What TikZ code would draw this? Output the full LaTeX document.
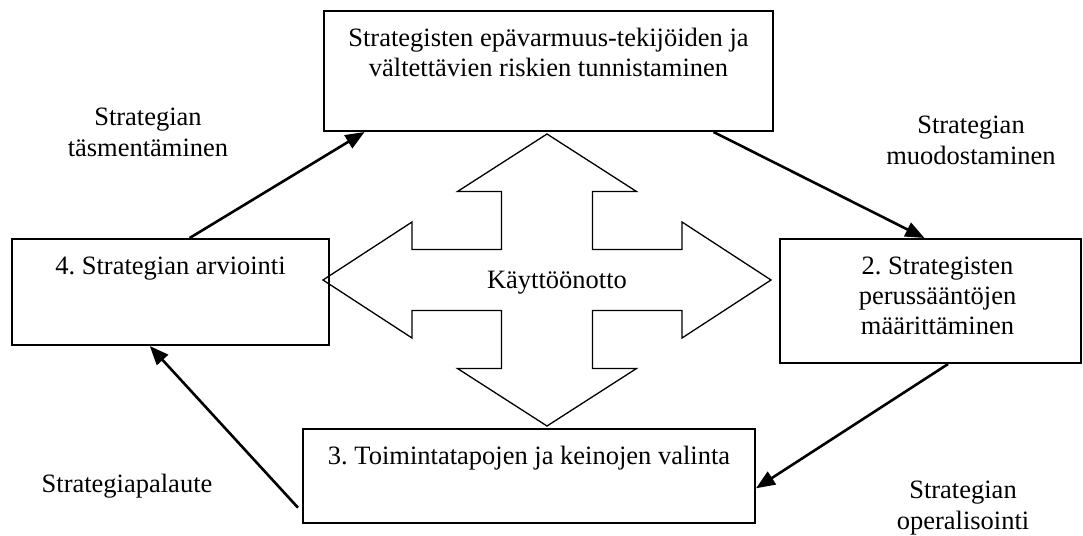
\documentclass[tikz,border=0pt]{standalone}
\usepackage{fontspec}
\setmainfont{Liberation Serif}
\usetikzlibrary{arrows.meta,calc}

% centred lines set at a fixed baseline distance; the node's baseline is that of the first line
\newcommand\stacklines[2][31pt]{\vtop{\baselineskip=#1\halign{\hfil##\hfil\cr#2\crcr}}}

\begin{document}
\begin{tikzpicture}[x=1pt,y=-1pt,
  every node/.style={font=\fontsize{26.5}{31}\selectfont\frenchspacing, inner sep=0pt, text=black},
  stage/.style={draw, rectangle, line width=2pt},
  caption/.style={anchor=base},
  flow/.style={line width=2.6pt, -{Triangle[length=19pt,width=15pt]}},
  hubline/.style={line width=1.3pt, line join=miter}
]
\useasboundingbox (0,0) rectangle (1083,535);

% the four stages
\node[stage, minimum width=449pt, minimum height=120pt] (top) at (548.5,71) {};
\node[stage, minimum width=317pt, minimum height=106pt] (b4) at (170.5,292) {};
\node[stage, minimum width=301pt, minimum height=124pt] (b2) at (930.5,301) {};
\node[stage, minimum width=452pt, minimum height=94pt] (b3) at (529,476) {};

\node[caption] (toptext) at ($(top.north)+(0,36)$)
  {\stacklines{Strategisten epävarmuus-tekijöiden ja\cr vältettävien riskien tunnistaminen}};
\node[caption] (b4text) at ($(b4.north)+(0,36)$) {4. Strategian arviointi};
\node[caption] (b2text) at ($(b2.north)+(7,36)$)
  {\stacklines[30pt]{2. Strategisten\cr perussääntöjen\cr määrittäminen}};
\node[caption] (b3text) at ($(b3.north)+(0,36)$) {3. Toimintatapojen ja keinojen valinta};

% four-way arrow in the middle
\coordinate (hub) at (547,280);
\begin{scope}[shift={(hub)}]
  \draw[hubline] (0,-146) -- (89.5,-88.5) -- (45.5,-88.5) -- (45.5,-30.5) -- (135,-30.5)
    -- (135,-58) -- (224,0) -- (135,58) -- (135,30.5) -- (45.5,30.5) -- (45.5,88.5)
    -- (89.5,88.5) -- (0,146) -- (-89.5,88.5) -- (-45.5,88.5) -- (-45.5,30.5)
    -- (-135,30.5) -- (-135,58) -- (-224,0) -- (-135,-58) -- (-135,-30.5)
    -- (-45.5,-30.5) -- (-45.5,-88.5) -- (-89.5,-88.5) -- cycle;
\end{scope}
\node[caption] (hubtext) at ($(hub)+(10,8)$) {Käyttöönotto};

% cycle connectors
\draw[flow] ($(b4.north west)!0.56!(b4.north east)$) -- ($(top.south west)!0.092!(top.south east)$);
\draw[flow] ($(top.south west)!0.866!(top.south east)$) -- ($(b2.north west)!0.48!(b2.north east)$);
\draw[flow] ($(b2.south west)!0.558!(b2.south east)$) -- ($(b3.north east)!0.628!(b3.south east)$);
\draw[flow] ($(b3.north west)!0.83!(b3.south west)+(-4,0)$) -- ($(b4.south west)!0.435!(b4.south east)$);

% connector labels
\node[caption] (lblrefine) at (148,125) {\stacklines{Strategian\cr täsmentäminen}};
\node[caption] (lblform) at (971,133) {\stacklines{Strategian\cr muodostaminen}};
\node[caption] (lblfeedback) at (127,492) {Strategiapalaute};
\node[caption] (lbloper) at (963,498) {\stacklines{Strategian\cr operalisointi}};
\end{tikzpicture}
\end{document}
